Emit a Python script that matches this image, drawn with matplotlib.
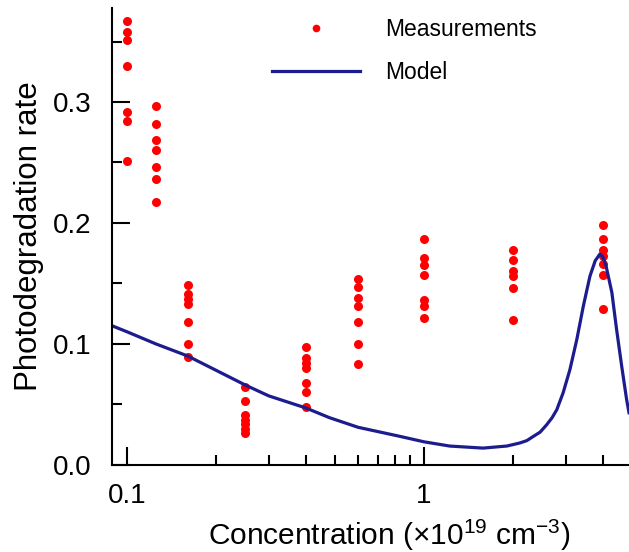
import matplotlib
matplotlib.use("Agg")
import matplotlib.pyplot as plt
from matplotlib.ticker import FixedLocator, NullFormatter

plt.rcParams['font.family'] = ['Liberation Sans', 'DejaVu Sans']
plt.rcParams['mathtext.fontset'] = 'custom'
plt.rcParams['mathtext.rm'] = 'Liberation Sans'

# measured concentrations (x1e19 cm^-3) and photodegradation rates
conc = [0.1, 0.125, 0.16, 0.25, 0.4, 0.6, 1.0, 2.0, 4.0]
rates = [
    [0.367, 0.358, 0.351, 0.330, 0.292, 0.284, 0.251],
    [0.297, 0.282, 0.269, 0.260, 0.246, 0.236, 0.217],
    [0.149, 0.141, 0.137, 0.133, 0.118, 0.100, 0.089],
    [0.064, 0.053, 0.041, 0.037, 0.034, 0.030, 0.026],
    [0.097, 0.088, 0.084, 0.080, 0.068, 0.060, 0.048],
    [0.154, 0.147, 0.138, 0.131, 0.118, 0.100, 0.083],
    [0.187, 0.171, 0.165, 0.157, 0.136, 0.131, 0.121],
    [0.178, 0.169, 0.160, 0.156, 0.146, 0.120],
    [0.198, 0.187, 0.178, 0.173, 0.166, 0.157, 0.129],
]

# model curve
model_x = [0.089, 0.1, 0.125, 0.16, 0.2, 0.25, 0.3, 0.4, 0.48, 0.6, 0.83, 1.0,
           1.22, 1.58, 1.9, 2.1, 2.22, 2.335, 2.46, 2.59, 2.7, 2.8, 2.94, 3.1,
           3.27, 3.44, 3.62, 3.77, 3.91, 4.0, 4.1, 4.29, 4.45, 4.63, 4.81, 4.9]
model_y = [0.115, 0.110, 0.100, 0.090, 0.078, 0.066, 0.057, 0.047, 0.039, 0.031,
           0.0235, 0.019, 0.0155, 0.0138, 0.0155, 0.018, 0.020, 0.0235, 0.027,
           0.0332, 0.039, 0.0456, 0.0595, 0.0788, 0.1037, 0.1314, 0.156, 0.1687,
           0.1743, 0.172, 0.1646, 0.1425, 0.112, 0.0816, 0.054, 0.043]

fig = plt.figure(figsize=(6.29, 5.52), dpi=100)
ax = fig.add_axes([0.178, 0.158, 0.822, 0.828])

xs = []
ys = []
for c, vals in zip(conc, rates):
    for v in vals:
        xs.append(c)
        ys.append(v)

ax.plot(xs, ys, 'o', color='#ff0000', ms=6.5, mec='none', label='Measurements')
ax.plot(model_x, model_y, color='#1c1c8f', lw=2.3, label='Model')

ax.set_xscale('log')
ax.set_xlim(0.089, 4.9)
ax.set_ylim(0, 0.378)

# ticks
ax.xaxis.set_major_locator(FixedLocator([0.1, 1]))
ax.set_xticklabels(['0.1', '1'])
ax.xaxis.set_minor_locator(FixedLocator([0.2, 0.3, 0.4, 0.5, 0.6, 0.7, 0.8, 0.9, 2, 3, 4]))
ax.xaxis.set_minor_formatter(NullFormatter())
ax.set_yticks([0.0, 0.1, 0.2, 0.3])
ax.set_yticklabels(['0.0', '0.1', '0.2', '0.3'])
ax.yaxis.set_minor_locator(FixedLocator([0.05, 0.15, 0.25, 0.35]))

ax.tick_params(which='major', direction='in', length=13, width=1.5, labelsize=20)
ax.tick_params(which='minor', direction='in', length=7, width=1.5)
ax.tick_params(axis='x', which='major', pad=13)
ax.tick_params(axis='y', which='major', pad=15)

for s in ['top', 'right']:
    ax.spines[s].set_visible(False)
for s in ['left', 'bottom']:
    ax.spines[s].set_linewidth(1.5)

ax.set_xlabel('Concentration (×10$^{19}$ cm$^{-3}$)', fontsize=21.5)
ax.xaxis.set_label_coords(0.536, -0.115)
ax.set_ylabel('Photodegradation rate', fontsize=22.5, labelpad=6)

leg = ax.legend(loc='upper left', bbox_to_anchor=(0.309, 0.977), frameon=False,
                fontsize=16.5, numpoints=1, markerscale=0.85, handlelength=3.84,
                handletextpad=1.13, labelspacing=0.88, borderpad=0, borderaxespad=0)

plt.savefig('out.png', dpi=100)
